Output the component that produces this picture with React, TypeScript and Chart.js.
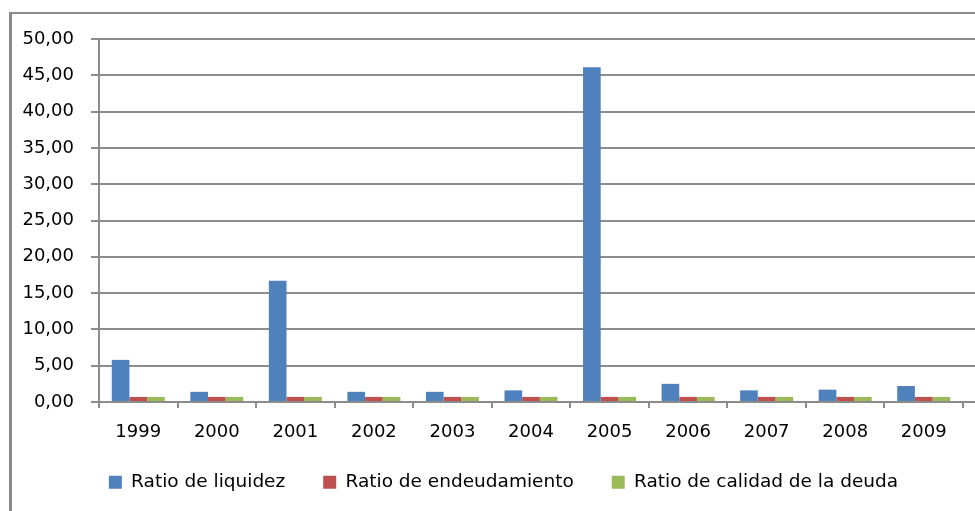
import React, { useEffect, useRef } from "react";
import { Chart, registerables } from "chart.js";

Chart.register(...registerables);

const categories = ["1999", "2000", "2001", "2002", "2003", "2004", "2005", "2006", "2007", "2008", "2009"];
const ratioLiquidez = [5.8, 1.4, 16.7, 1.4, 1.4, 1.6, 46.1, 2.5, 1.6, 1.7, 2.2];
const ratioEndeudamiento = [0.7, 0.7, 0.7, 0.7, 0.7, 0.7, 0.7, 0.7, 0.7, 0.7, 0.7];
const ratioCalidadDeuda = [0.7, 0.7, 0.7, 0.7, 0.7, 0.7, 0.7, 0.7, 0.7, 0.7, 0.7];
const seriesNames = ["Ratio de liquidez", "Ratio de endeudamiento", "Ratio de calidad de la deuda"];
const yMin = 0;
const yMax = 50;
const yStep = 5;

const GRID = "#8c8c8c";
const GRID_W = 2;
const FONT = "'DejaVu Sans', sans-serif";

const align = (p: number, w: number) => Math.round(p - w / 2) + w / 2;

const extendGrid = {
  id: "extendGrid",
  afterLayout(chart: any) {
    const lg = chart.legend;
    if (lg) {
      lg.left += 22;
      lg.right += 22;
      lg.top -= 13;
      lg.bottom -= 13;
    }
  },
  beforeDatasetsDraw(chart: any) {
    const { ctx, chartArea, scales } = chart;
    const y = scales.y;
    ctx.save();
    ctx.strokeStyle = GRID;
    ctx.lineWidth = GRID_W;
    y.ticks.forEach((t: any) => {
      const py = align(y.getPixelForValue(t.value), GRID_W);
      ctx.beginPath();
      ctx.moveTo(chartArea.right - 1, py);
      ctx.lineTo(chart.width, py);
      ctx.stroke();
    });
    ctx.restore();
  },
};

export default function App() {
  const ref = useRef<HTMLCanvasElement | null>(null);
  useEffect(() => {
    if (!ref.current) return;
    const chart = new Chart(ref.current, {
      type: "bar",
      data: {
        labels: categories,
        datasets: [
          { label: seriesNames[0], data: ratioLiquidez, backgroundColor: "#4F81BD" },
          { label: seriesNames[1], data: ratioEndeudamiento, backgroundColor: "#C0504D" },
          { label: seriesNames[2], data: ratioCalidadDeuda, backgroundColor: "#9BBB59" },
        ],
      },
      options: {
        responsive: false,
        animation: false,
        devicePixelRatio: 1,
        datasets: { bar: { categoryPercentage: 0.675, barPercentage: 1 } },
        layout: { padding: { left: 0, right: 44, top: 39, bottom: -3.5 } },
        plugins: {
          tooltip: { enabled: false },
          legend: {
            position: "bottom",
            labels: {
              boxWidth: 13,
              boxHeight: 13,
              padding: 38,
              color: "#000",
              font: { family: FONT, size: 18.5 },
            },
          },
        },
        scales: {
          x: {
            afterFit: (s: any) => {
              s.height = 46;
            },
            grid: {
              drawOnChartArea: false,
              drawTicks: true,
              tickLength: 6,
              color: GRID,
              lineWidth: GRID_W,
            },
            border: { display: true, color: GRID, width: GRID_W },
            ticks: { color: "#000", padding: 14, font: { family: FONT, size: 18 } },
          },
          y: {
            min: yMin,
            max: yMax,
            afterFit: (s: any) => {
              s.width = 99;
            },
            grid: { color: GRID, lineWidth: GRID_W, tickLength: 8, drawTicks: true },
            border: { display: true, color: GRID, width: GRID_W },
            ticks: {
              stepSize: yStep,
              padding: 17,
              color: "#000",
              font: { family: FONT, size: 18 },
              callback: (v: any) => Number(v).toFixed(2).replace(".", ","),
            },
          },
        },
      },
      plugins: [extendGrid],
    });
    return () => chart.destroy();
  }, []);

  return (
    <div
      style={{
        position: "fixed",
        left: 0,
        top: 0,
        width: 975,
        height: 511,
        overflow: "hidden",
        background: "#fff",
      }}
    >
      <div
        style={{
          position: "absolute",
          left: 9,
          top: 12,
          width: 2000,
          height: 2000,
          borderLeft: "3px solid #8a8a8a",
          borderTop: "2px solid #8a8a8a",
        }}
      />
      <canvas
        ref={ref}
        width={1007}
        height={511}
        style={{ position: "absolute", left: 0, top: 0, width: 1007, height: 511 }}
      />
    </div>
  );
}
